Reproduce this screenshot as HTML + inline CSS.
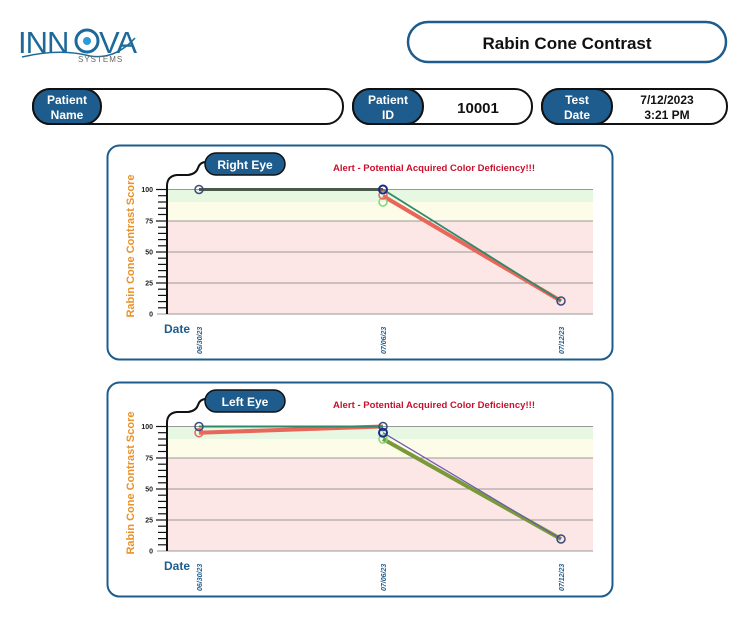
<!DOCTYPE html>
<html><head><meta charset="utf-8"><style>
html,body{margin:0;padding:0;background:#fff;}
svg{display:block;font-family:"Liberation Sans",sans-serif;}
</style></head><body>
<svg width="750" height="617" viewBox="0 0 750 617">
<defs>
<g id="frame">
  <rect x="107.5" y="145.5" width="505" height="214" rx="12" fill="#fff" stroke="#1d5c8c" stroke-width="2"/>
  <rect x="167" y="189.5" width="426" height="12.5" fill="#e6f8e2"/>
  <rect x="167" y="202" width="426" height="19" fill="#fdfce8"/>
  <rect x="167" y="221" width="426" height="93" fill="#fde6e6"/>
  <g stroke="#999" stroke-width="1">
    <line x1="167" y1="189.5" x2="593" y2="189.5"/>
    <line x1="167" y1="221" x2="593" y2="221"/>
    <line x1="167" y1="252" x2="593" y2="252"/>
    <line x1="167" y1="283" x2="593" y2="283"/>
    <line x1="157" y1="314" x2="593" y2="314"/>
  </g>
  <path d="M167 314 V186 Q167 176 177 175 L188 175 Q196 174 198 168 Q200 162 206 162" fill="none" stroke="#111" stroke-width="2"/>
  <g stroke="#111" stroke-width="1.2">
    <line x1="158" y1="195.7" x2="167" y2="195.7"/><line x1="158" y1="202" x2="167" y2="202"/><line x1="158" y1="208.2" x2="167" y2="208.2"/><line x1="158" y1="214.5" x2="167" y2="214.5"/>
    <line x1="158" y1="227.2" x2="167" y2="227.2"/><line x1="158" y1="233.4" x2="167" y2="233.4"/><line x1="158" y1="239.6" x2="167" y2="239.6"/><line x1="158" y1="245.8" x2="167" y2="245.8"/>
    <line x1="158" y1="258.2" x2="167" y2="258.2"/><line x1="158" y1="264.4" x2="167" y2="264.4"/><line x1="158" y1="270.6" x2="167" y2="270.6"/><line x1="158" y1="276.8" x2="167" y2="276.8"/>
    <line x1="158" y1="289.2" x2="167" y2="289.2"/><line x1="158" y1="295.4" x2="167" y2="295.4"/><line x1="158" y1="301.6" x2="167" y2="301.6"/><line x1="158" y1="307.8" x2="167" y2="307.8"/>
    <line x1="156" y1="189.5" x2="167" y2="189.5"/><line x1="156" y1="221" x2="167" y2="221"/><line x1="156" y1="252" x2="167" y2="252"/><line x1="156" y1="283" x2="167" y2="283"/>
  </g>
  <g font-size="7" font-weight="bold" fill="#222" text-anchor="end">
    <text x="153" y="192">100</text><text x="153" y="223.5">75</text><text x="153" y="254.5">50</text><text x="153" y="285.5">25</text><text x="153" y="316.5">0</text>
  </g>
  <text transform="translate(134,246) rotate(-90)" text-anchor="middle" font-size="11" font-weight="bold" fill="#e8922a">Rabin Cone Contrast Score</text>
  <text x="164" y="333" font-size="12" font-weight="bold" fill="#1d5c8c">Date</text>
  <g font-size="7" font-weight="bold" font-style="italic" fill="#1d5c8c">
    <text transform="translate(202,354) rotate(-90)">06/30/23</text>
    <text transform="translate(386,354) rotate(-90)">07/06/23</text>
    <text transform="translate(564,354) rotate(-90)">07/12/23</text>
  </g>
  <text x="333" y="171" font-size="9.5" font-weight="bold" fill="#c8102e" textLength="202">Alert - Potential  Acquired Color Deficiency!!!</text>
  <rect x="205" y="153" width="80" height="22" rx="11" fill="#1d5c8c" stroke="#111" stroke-width="1.5"/>
</g>
</defs>

<!-- header -->
<text x="18" y="53" font-size="31" fill="#1d6a9a" letter-spacing="-1">INN</text>
<circle cx="87" cy="41" r="11" fill="none" stroke="#1d6a9a" stroke-width="3"/>
<circle cx="87" cy="41" r="4" fill="#2a9ad8"/>
<text x="99" y="53" font-size="31" fill="#1d6a9a" letter-spacing="-1">VA</text>
<path d="M22 57 Q60 48 90 56 Q115 60 135 38" fill="none" stroke="#1d6a9a" stroke-width="1.5"/>
<text x="78" y="62" font-size="8" fill="#666" letter-spacing="1">SYSTEMS</text>

<rect x="408" y="22" width="318" height="40" rx="20" fill="#fff" stroke="#1d5c8c" stroke-width="2.5"/>
<text x="567" y="49" text-anchor="middle" font-size="17" font-weight="bold" fill="#111">Rabin Cone Contrast</text>

<rect x="33" y="89" width="310" height="35" rx="17" fill="#fff" stroke="#111" stroke-width="2"/>
<rect x="33" y="89" width="68" height="35" rx="17" fill="#1d5c8c" stroke="#111" stroke-width="2"/>
<text x="67" y="104" text-anchor="middle" font-size="12" font-weight="bold" fill="#fff">Patient</text>
<text x="67" y="119" text-anchor="middle" font-size="12" font-weight="bold" fill="#fff">Name</text>

<rect x="353" y="89" width="179" height="35" rx="17" fill="#fff" stroke="#111" stroke-width="2"/>
<rect x="353" y="89" width="70" height="35" rx="17" fill="#1d5c8c" stroke="#111" stroke-width="2"/>
<text x="388" y="104" text-anchor="middle" font-size="12" font-weight="bold" fill="#fff">Patient</text>
<text x="388" y="119" text-anchor="middle" font-size="12" font-weight="bold" fill="#fff">ID</text>
<text x="478" y="113" text-anchor="middle" font-size="15" font-weight="bold" fill="#111">10001</text>

<rect x="542" y="89" width="185" height="35" rx="17" fill="#fff" stroke="#111" stroke-width="2"/>
<rect x="542" y="89" width="70" height="35" rx="17" fill="#1d5c8c" stroke="#111" stroke-width="2"/>
<text x="577" y="104" text-anchor="middle" font-size="12" font-weight="bold" fill="#fff">Test</text>
<text x="577" y="119" text-anchor="middle" font-size="12" font-weight="bold" fill="#fff">Date</text>
<text x="667" y="104" text-anchor="middle" font-size="12" font-weight="bold" fill="#111">7/12/2023</text>
<text x="667" y="119" text-anchor="middle" font-size="12" font-weight="bold" fill="#111">3:21 PM</text>

<!-- right eye -->
<use href="#frame"/>
<text x="245" y="169" text-anchor="middle" font-size="12" font-weight="bold" fill="#fff">Right Eye</text>
<g fill="none" stroke-linejoin="round">
  <polyline points="383,196 561,301" stroke="#e8665a" stroke-width="4"/>
  <polyline points="383,189.5 561,301" stroke="#2e8b6a" stroke-width="1.8"/>
  <polyline points="199,189.5 383,189.5" stroke="#4a5a4a" stroke-width="3"/>
  <circle cx="383" cy="202" r="4" stroke="#7fd67f" stroke-width="1.5"/>
  <circle cx="383" cy="195" r="4" stroke="#e8665a" stroke-width="1.5"/>
  <circle cx="199" cy="189.5" r="4" stroke="#3a4a7a" stroke-width="1.5"/>
  <circle cx="383" cy="189.5" r="4" stroke="#1a2a8a" stroke-width="2"/>
  <circle cx="561" cy="301" r="4" stroke="#3a4a7a" stroke-width="1.5"/>
</g>

<!-- left eye -->
<g transform="translate(0,237)"><use href="#frame"/></g>
<text x="245" y="406" text-anchor="middle" font-size="12" font-weight="bold" fill="#fff">Left Eye</text>
<g fill="none" stroke-linejoin="round">
  <polyline points="199,432.7 383,426.5" stroke="#e8665a" stroke-width="4"/>
  <polyline points="199,426.5 383,426.5" stroke="#2e8b6a" stroke-width="2"/>
  <polyline points="383,439 561,539" stroke="#7a9a3a" stroke-width="4"/>
  <polyline points="383,432.7 561,539" stroke="#6a5ab0" stroke-width="1.2"/>
  <circle cx="199" cy="432.7" r="4" stroke="#e8665a" stroke-width="1.5"/>
  <circle cx="199" cy="426.5" r="4" stroke="#3a4a7a" stroke-width="1.5"/>
  <circle cx="383" cy="439" r="4" stroke="#7fd67f" stroke-width="1.5"/>
  <circle cx="383" cy="426.5" r="4" stroke="#3a4a7a" stroke-width="1.5"/>
  <circle cx="383" cy="432.7" r="4" stroke="#1a2a8a" stroke-width="2"/>
  <circle cx="561" cy="539" r="4" stroke="#3a4a7a" stroke-width="1.5"/>
</g>
</svg>
</body></html>
